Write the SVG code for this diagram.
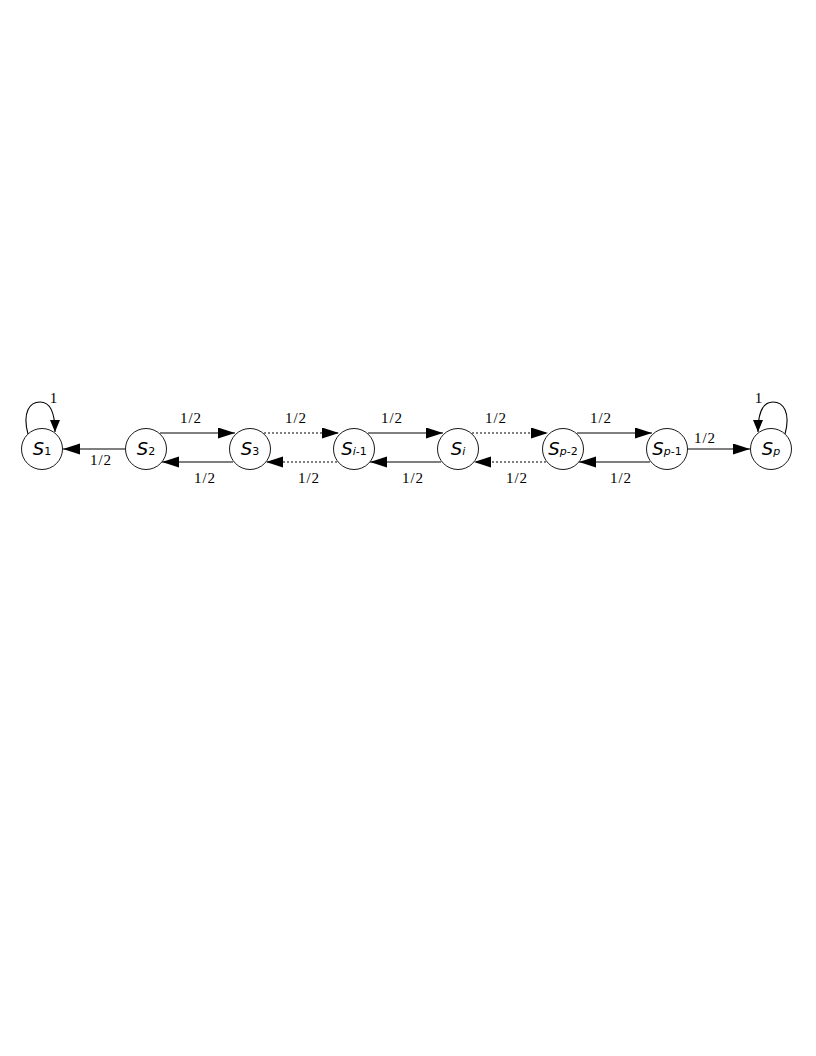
<svg xmlns="http://www.w3.org/2000/svg" width="816" height="1056" viewBox="0 0 816 1056">
<style>
.node{fill:#fff;stroke:#000;stroke-width:0.9}
.nt{font-family:"DejaVu Sans",sans-serif;font-size:18px;fill:#000}
.s{font-style:italic}
.sub{font-size:11px}
.it{font-style:italic}
.lbl{font-family:"Liberation Serif",serif;font-size:15px;fill:#000;text-anchor:middle;letter-spacing:1px}
.e{fill:none;stroke:#000;stroke-width:1.1}
.d{stroke-dasharray:2,2}
</style>
<defs>
<marker id="ah" markerUnits="userSpaceOnUse" markerWidth="18" markerHeight="12" refX="17" refY="5.5" orient="auto">
<path d="M0,0 L17,5.5 L0,11 Z" fill="#000"/>
</marker>
<marker id="ahs" markerUnits="userSpaceOnUse" markerWidth="14" markerHeight="12" refX="12" refY="5" orient="auto">
<path d="M0,0 L12,5 L0,10 Z" fill="#000"/>
</marker>
</defs>
<rect width="816" height="1056" fill="#fff"/>
<g id="connectors">
<path class="e" d="M28,434 C22,412 30,402 40,402 C50,402 55,412 55,432" marker-end="url(#ahs)"/>
<path class="e" d="M785,434 C791,412 783,402 773,402 C763,402 758,412 758,432" marker-end="url(#ahs)"/>
<line class="e" x1="125" y1="449" x2="63" y2="449" marker-end="url(#ah)"/>
<line class="e" x1="688" y1="449" x2="750" y2="449" marker-end="url(#ah)"/>
<line class="e" x1="160" y1="433" x2="235" y2="433" marker-end="url(#ah)"/>
<line class="e d" x1="264" y1="433" x2="339" y2="433" marker-end="url(#ah)"/>
<line class="e" x1="368" y1="433" x2="443" y2="433" marker-end="url(#ah)"/>
<line class="e d" x1="472" y1="433" x2="548" y2="433" marker-end="url(#ah)"/>
<line class="e" x1="577" y1="433" x2="652" y2="433" marker-end="url(#ah)"/>
<line class="e" x1="233" y1="462" x2="162" y2="462" marker-end="url(#ah)"/>
<line class="e d" x1="337" y1="462" x2="266" y2="462" marker-end="url(#ah)"/>
<line class="e" x1="441" y1="462" x2="370" y2="462" marker-end="url(#ah)"/>
<line class="e d" x1="546" y1="462" x2="474" y2="462" marker-end="url(#ah)"/>
<line class="e" x1="650" y1="462" x2="579" y2="462" marker-end="url(#ah)"/>
<text class="lbl" x="54" y="403">1</text>
<text class="lbl" x="759" y="403">1</text>
<text class="lbl" x="101" y="465">1/2</text>
<text class="lbl" x="705" y="443">1/2</text>
<text class="lbl" x="191" y="423">1/2</text>
<text class="lbl" x="296" y="423">1/2</text>
<text class="lbl" x="392" y="423">1/2</text>
<text class="lbl" x="496" y="423">1/2</text>
<text class="lbl" x="601" y="423">1/2</text>
<text class="lbl" x="205" y="483">1/2</text>
<text class="lbl" x="309" y="483">1/2</text>
<text class="lbl" x="413" y="483">1/2</text>
<text class="lbl" x="517" y="483">1/2</text>
<text class="lbl" x="621" y="483">1/2</text>
</g>
<g id="S1"><circle class="node" cx="42" cy="449" r="20.5"/><text class="nt" x="42" y="455" text-anchor="middle"><tspan class="s">S</tspan><tspan class="sub">1</tspan></text></g>
<g id="S2"><circle class="node" cx="146" cy="449" r="20.5"/><text class="nt" x="146" y="455" text-anchor="middle"><tspan class="s">S</tspan><tspan class="sub">2</tspan></text></g>
<g id="S3"><circle class="node" cx="250" cy="449" r="20.5"/><text class="nt" x="250" y="455" text-anchor="middle"><tspan class="s">S</tspan><tspan class="sub">3</tspan></text></g>
<g id="Si-1"><circle class="node" cx="354" cy="449" r="20.5"/><text class="nt" x="354" y="455" text-anchor="middle"><tspan class="s">S</tspan><tspan class="sub it">i</tspan><tspan class="sub">-1</tspan></text></g>
<g id="Si"><circle class="node" cx="458" cy="449" r="20.5"/><text class="nt" x="458" y="455" text-anchor="middle"><tspan class="s">S</tspan><tspan class="sub it">i</tspan></text></g>
<g id="Sp-2"><circle class="node" cx="563" cy="449" r="20.5"/><text class="nt" x="563" y="455" text-anchor="middle"><tspan class="s">S</tspan><tspan class="sub it">p</tspan><tspan class="sub">-2</tspan></text></g>
<g id="Sp-1"><circle class="node" cx="667" cy="449" r="20.5"/><text class="nt" x="667" y="455" text-anchor="middle"><tspan class="s">S</tspan><tspan class="sub it">p</tspan><tspan class="sub">-1</tspan></text></g>
<g id="Sp"><circle class="node" cx="771" cy="449" r="20.5"/><text class="nt" x="771" y="455" text-anchor="middle"><tspan class="s">S</tspan><tspan class="sub it">p</tspan></text></g>
</svg>
